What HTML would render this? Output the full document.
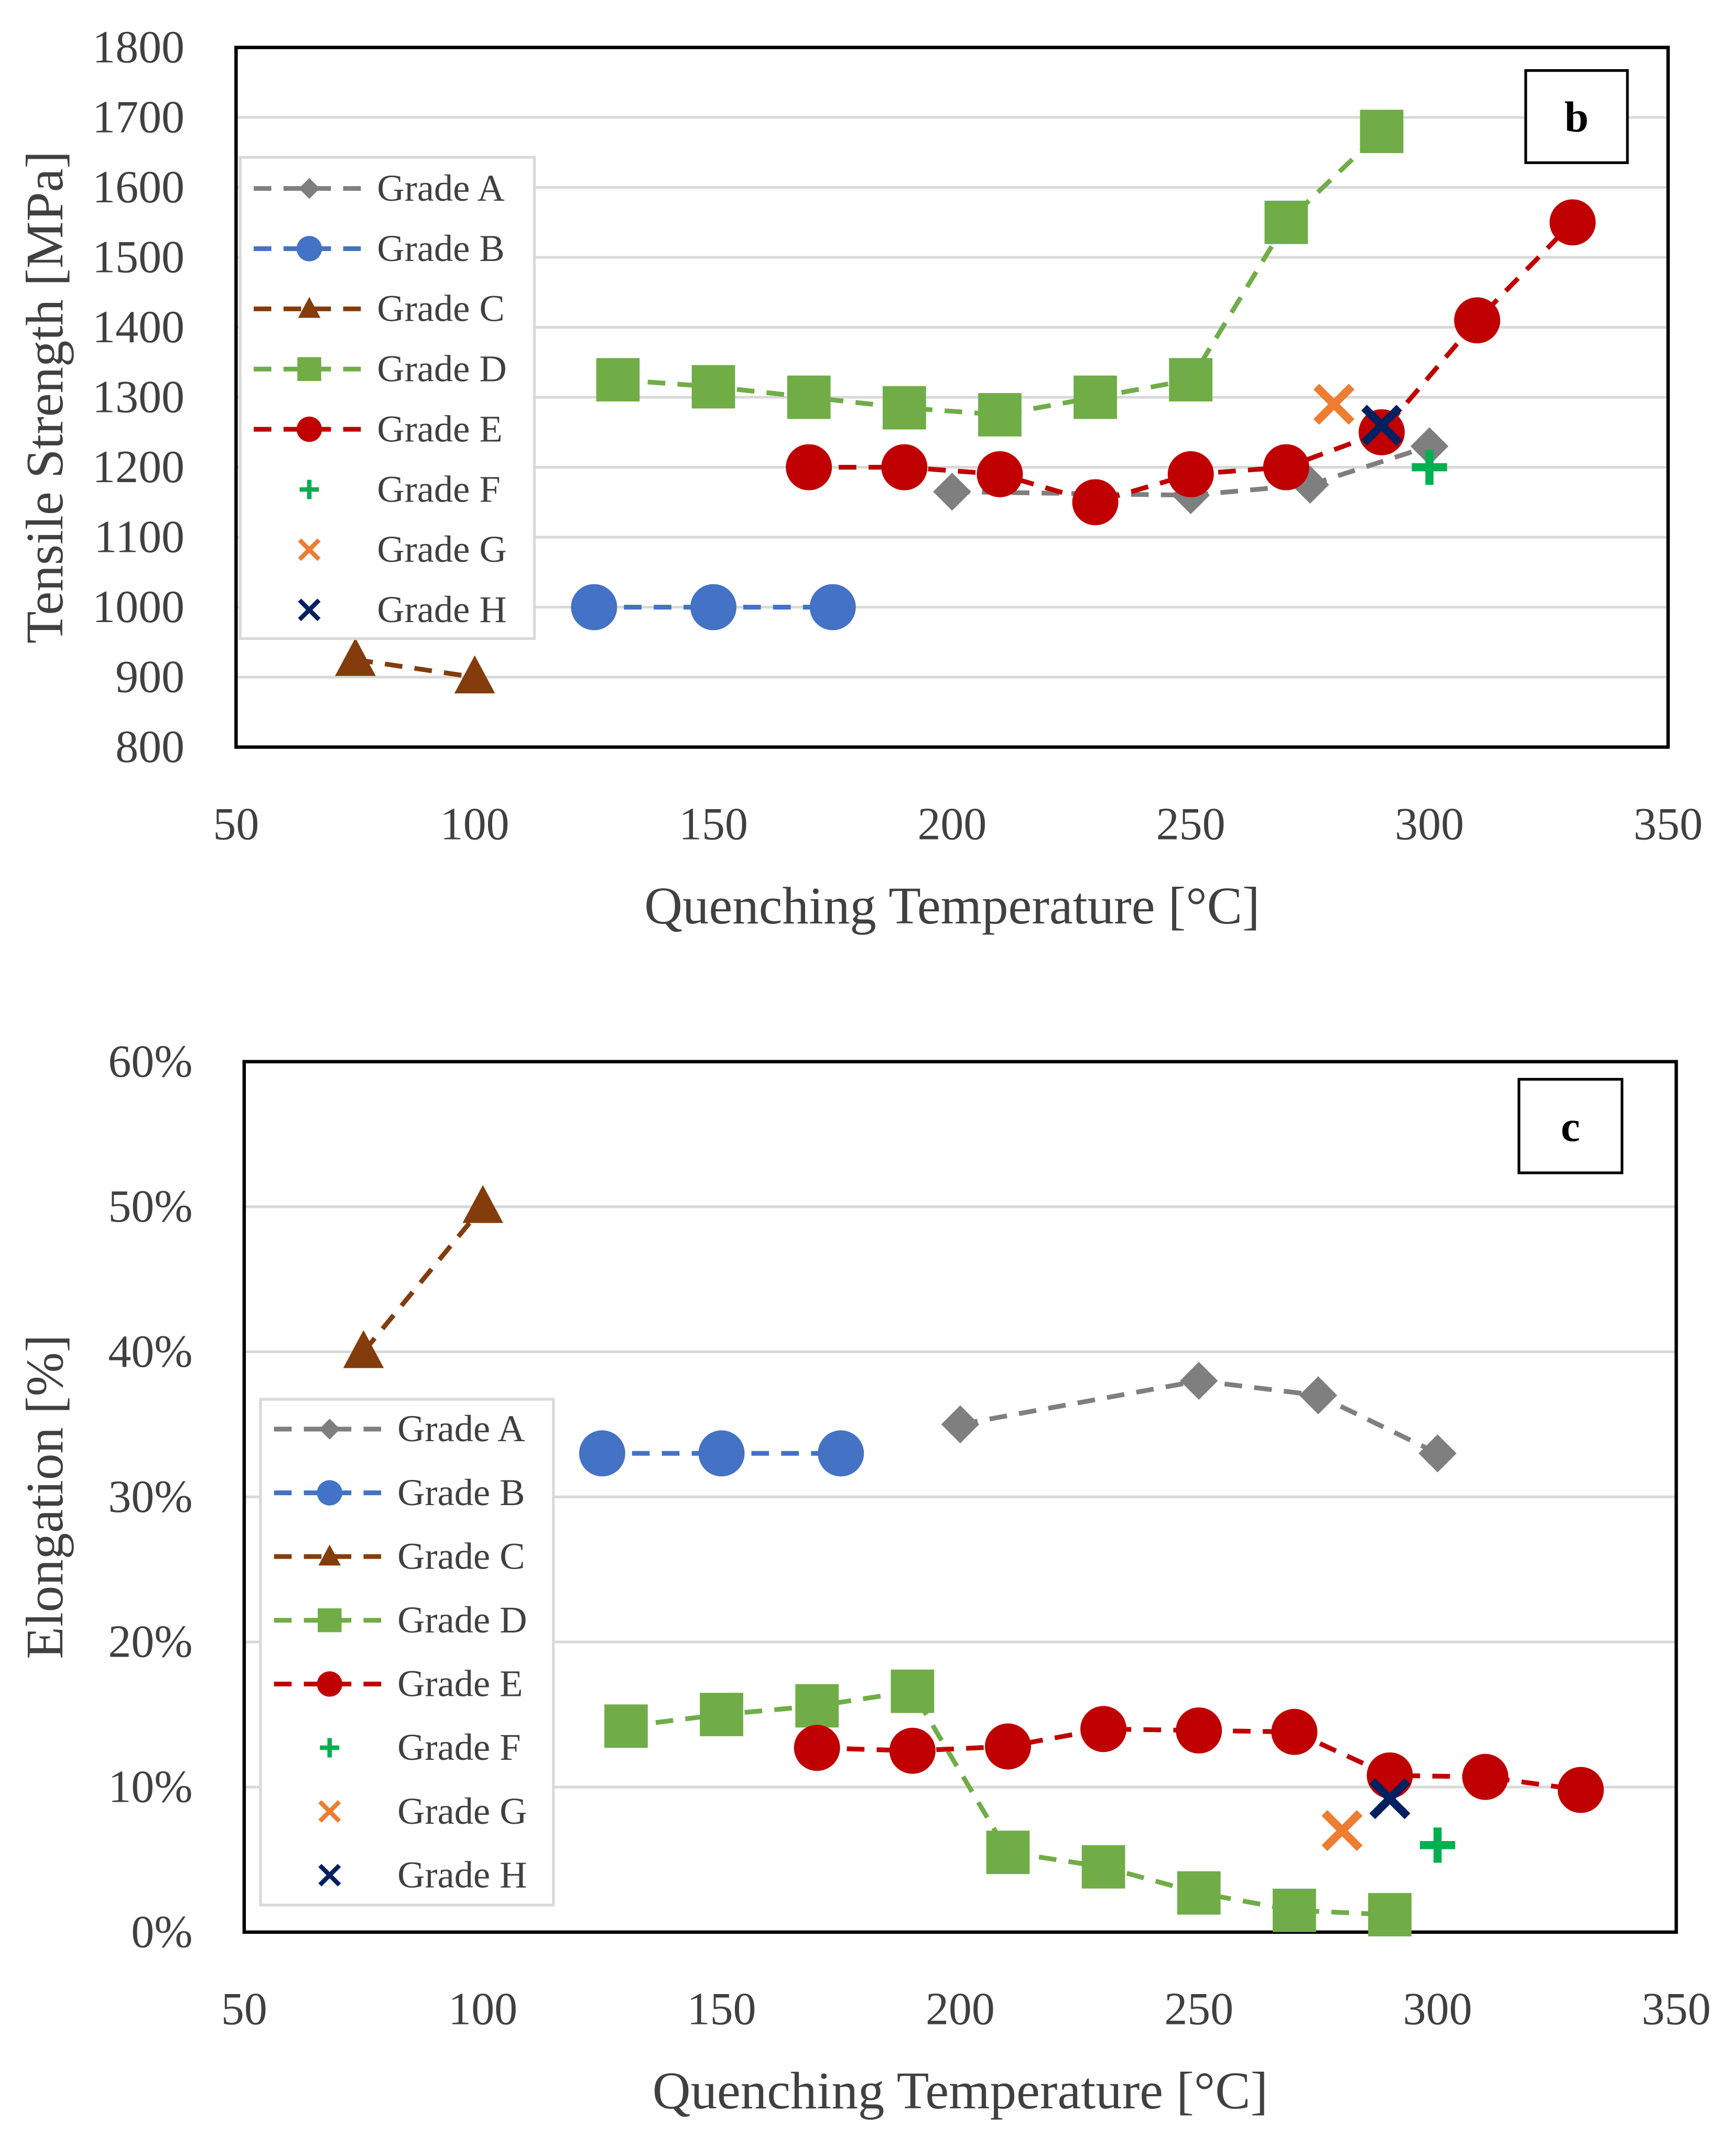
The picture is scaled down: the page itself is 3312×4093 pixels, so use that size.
<!DOCTYPE html>
<html><head><meta charset="utf-8"><style>html,body{margin:0;padding:0;background:#fff}svg{display:block}</style></head>
<body>
<svg id="fig" xmlns="http://www.w3.org/2000/svg" width="3312" height="4093" viewBox="0 0 1280 1582" font-family="'Liberation Serif', serif"></svg>
<script>
const names=["Grade A","Grade B","Grade C","Grade D","Grade E","Grade F","Grade G","Grade H"];
const colors=["#7f7f7f","#4472c4","#843c0c","#70ad47","#c00000","#00b050","#ed7d31","#002060"];
const shapes=["diamond","circle","triangle","square","circle","plus","x","x"];
const xA=[200,250,275,300], xB=[125,150,175], xC=[75,100], xD=[130,150,170,190,210,230,250,270,290], xE=[170,190,210,230,250,270,290,310,330], xF=[300], xG=[280], xH=[290];
const tsA=[1165,1160,1175,1230], tsB=[1000,1000,1000], tsC=[925,900], tsD=[1325,1315,1300,1285,1275,1300,1325,1550,1680], tsE=[1200,1200,1190,1150,1190,1200,1250,1410,1550], tsF=[1200], tsG=[1290], tsH=[1260];
const elA=[35,38,37,33], elB=[33,33,33], elC=[40,50], elD=[14.2,15,15.6,16.6,5.5,4.5,2.7,1.5,1.2], elE=[12.7,12.5,12.8,14,13.9,13.8,10.8,10.7,9.8], elF=[6], elG=[7], elH=[9.2];
const xTicks=[50,100,150,200,250,300,350];
const tsTicks=[800,900,1000,1100,1200,1300,1400,1500,1600,1700,1800];
const elTicks=[0,10,20,30,40,50,60];
const NS="http://www.w3.org/2000/svg", svg=document.getElementById('fig');
function mk(tag,attrs,parent){const e=document.createElementNS(NS,tag);for(const k in attrs)e.setAttribute(k,attrs[k]);(parent||svg).appendChild(e);return e;}
function marker(g,shape,c,x,y,s){let e;
 if(shape==="circle")e=mk('circle',{cx:x,cy:y,r:17*s,fill:c},g);
 else if(shape==="square")e=mk('rect',{x:x-16*s,y:y-16*s,width:32*s,height:32*s,fill:c},g);
 else if(shape==="diamond")e=mk('polygon',{points:`${x},${y-14*s} ${x+14*s},${y} ${x},${y+14*s} ${x-14*s},${y}`,fill:c},g);
 else if(shape==="triangle")e=mk('polygon',{points:`${x},${y-16*s} ${x+15*s},${y+12*s} ${x-15*s},${y+12*s}`,fill:c},g);
 else if(shape==="plus")e=mk('path',{d:`M${x-13*s},${y}H${x+13*s}M${x},${y-13*s}V${y+13*s}`,stroke:c,'stroke-width':6*s,fill:'none'},g);
 else e=mk('path',{d:`M${x-13*s},${y-13*s}L${x+13*s},${y+13*s}M${x+13*s},${y-13*s}L${x-13*s},${y+13*s}`,stroke:c,'stroke-width':6*s,fill:'none'},g);
 
 }
function chart(id,box,ymin,ymax,yticks,yfmt,xs,ys,ytitle,leg,label){
 const g=mk('g',{});
 
 
 const X=v=>box.l+(v-50)/300*(box.r-box.l), Y=v=>box.b-(v-ymin)/(ymax-ymin)*(box.b-box.t);
 yticks.forEach(t=>{const l=mk('line',{x1:box.l,x2:box.r,y1:Y(t),y2:Y(t),stroke:'#d9d9d9','stroke-width':2},g);
  
  
  const tx=mk('text',{x:box.l-38,y:Y(t)+11,'font-size':34,'text-anchor':'end',fill:'#404040'},g);tx.textContent=yfmt(t);
  
  });
 xTicks.forEach(t=>{const tx=mk('text',{x:X(t),y:box.b+68,'font-size':34,'text-anchor':'middle',fill:'#404040'},g);tx.textContent=t;
  
  });
 const fr=mk('rect',{x:box.l,y:box.t,width:box.r-box.l,height:box.b-box.t,fill:'none',stroke:'#000','stroke-width':2.5},g);
 
 
 for(let i=0;i<8;i++){const sg=mk('g',{},g);
  
  
  const pts=xs[i].map((x,j)=>[X(x),Y(ys[i][j])]);
  if(pts.length>1)mk('polyline',{points:pts.map(p=>p.join(',')).join(' '),fill:'none',stroke:colors[i],'stroke-width':3.5,'stroke-dasharray':'13 9'},sg);
  pts.forEach(p=>marker(sg,shapes[i],colors[i],p[0],p[1],1));}
 const xt=mk('text',{x:(box.l+box.r)/2,y:box.b+130,'font-size':39,'text-anchor':'middle',fill:'#404040'},g);xt.textContent='Quenching Temperature [°C]';
 
 
 const cy=(box.t+box.b)/2, yt=mk('text',{x:46,y:cy,'font-size':39,'text-anchor':'middle',fill:'#404040',transform:`rotate(-90 46 ${cy})`},g);yt.textContent=ytitle;
 
 
 const lg=mk('g',{},g);
 
 
 mk('rect',{x:leg.x,y:leg.y,width:leg.w,height:leg.h,fill:'#fff',stroke:'#d9d9d9','stroke-width':2},lg);
 for(let i=0;i<8;i++){const ry=leg.y+leg.y0+i*leg.dy;
  if(i<5)mk('line',{x1:leg.x+10,x2:leg.x+92,y1:ry,y2:ry,stroke:colors[i],'stroke-width':3.5,'stroke-dasharray':'13 9'},lg);
  marker(lg,shapes[i],colors[i],leg.x+51,ry,0.55);
  const t=mk('text',{x:leg.x+101,y:ry+9,'font-size':28,fill:'#404040'},lg);t.textContent=names[i];
  
  }
 const lb=mk('rect',{x:label.x,y:label.y,width:label.w,height:label.h,fill:'#fff',stroke:'#000','stroke-width':2},g);
 
 
 const lt=mk('text',{x:label.x+label.w/2,y:label.y+label.h/2+11,'font-size':32,'font-weight':'bold','text-anchor':'middle'},g);lt.textContent=label.t;
 
 
}
chart('tensile-chart',{l:174,r:1230,t:35,b:551},800,1800,tsTicks,t=>t,[xA,xB,xC,xD,xE,xF,xG,xH],[tsA,tsB,tsC,tsD,tsE,tsF,tsG,tsH],'Tensile Strength [MPa]',{x:177,y:116,w:217,h:355,y0:23,dy:44.4},{x:1125,y:52,w:75,h:68,t:'b'});
chart('elongation-chart',{l:180,r:1236,t:783,b:1425},0,60,elTicks,t=>t+'%',[xA,xB,xC,xD,xE,xF,xG,xH],[elA,elB,elC,elD,elE,elF,elG,elH],'Elongation [%]',{x:192,y:1032,w:216,h:373,y0:22,dy:47},{x:1120,y:796,w:76,h:69,t:'c'});
</script>
</body></html>
